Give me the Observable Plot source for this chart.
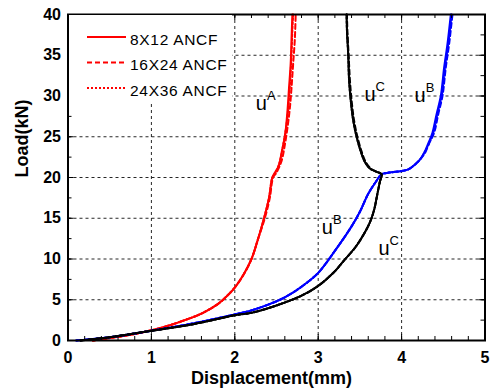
<!DOCTYPE html>
<html><head><meta charset="utf-8">
<script src="https://cdn.jsdelivr.net/npm/d3@7"></script>
<script src="https://cdn.jsdelivr.net/npm/@observablehq/plot@0.6"></script>
<style>
body{margin:0;background:#fff;}
#wrap{position:relative;width:492px;height:392px;font-family:"Liberation Sans",Arial,sans-serif;}
#legend{position:absolute;left:69px;top:15px;width:163px;height:89px;background:#fff;}
</style></head><body><div id="wrap"></div>
<script>
// ---- data ----
const xTicks = [0, 1, 2, 3, 4, 5];
const yTicks = [0, 5, 10, 15, 20, 25, 30, 35, 40];
const xGrid = [1, 2, 3, 4];
const yGrid = [5, 10, 15, 20, 25, 30, 35];
const xTitle = "Displacement(mm)";
const yTitle = "Load(kN)";
const legendLabels = ["8X12 ANCF", "16X24 ANCF", "24X36 ANCF"];

// u^A (red)
const redSolid = [[0.3,0],[0.5,0.3],[0.8,0.8],[1.0,1.25],[1.2,1.8],[1.4,2.5],[1.6,3.3],[1.8,4.5],[1.9,5.4],[2.0,6.5],[2.1,8.0],[2.2,10.0],[2.28,12.5],[2.35,15.0],[2.41,17.5],[2.45,20.0],[2.48,20.6],[2.53,21.5],[2.56,23],[2.60,25],[2.63,28],[2.65,31],[2.67,34],[2.68,37],[2.69,40]];
const redDashed = [[0.3,0],[0.5,0.3],[0.8,0.8],[1.0,1.25],[1.2,1.8],[1.4,2.5],[1.6,3.3],[1.8,4.5],[1.9,5.4],[2.0,6.5],[2.1,8.0],[2.2,10.0],[2.28,12.5],[2.36,15.0],[2.42,17.5],[2.46,20.0],[2.50,20.6],[2.56,22],[2.60,24],[2.63,26],[2.66,28.5],[2.68,31],[2.70,34],[2.72,37],[2.73,40]];
const redDotted = [[0.3,0],[0.5,0.3],[0.8,0.8],[1.0,1.25],[1.2,1.8],[1.4,2.5],[1.6,3.3],[1.8,4.5],[1.9,5.4],[2.0,6.5],[2.1,8.0],[2.2,10.0],[2.28,12.5],[2.35,15.0],[2.41,17.5],[2.45,20.0],[2.49,20.6],[2.54,22],[2.58,24],[2.62,26.5],[2.645,29],[2.665,32],[2.68,35],[2.69,38],[2.70,40]];

// u^B (blue)
const blueSolid = [[0.1,0],[0.5,0.4],[1.0,1.2],[1.5,2.1],[2.0,3.2],[2.2,3.7],[2.4,4.4],[2.6,5.3],[2.8,6.6],[3.0,8.3],[3.2,11],[3.4,14],[3.5,15.8],[3.6,18],[3.7,19.6],[3.76,20.4],[3.85,20.6],[4.0,20.8],[4.08,21.0],[4.15,21.5],[4.22,22.2],[4.27,23.0],[4.32,24.2],[4.37,25.5],[4.42,27.8],[4.47,30],[4.51,33.5],[4.55,36.4],[4.59,40]];
const blueDashed = [[0.1,0],[0.5,0.4],[1.0,1.2],[1.5,2.1],[2.0,3.2],[2.2,3.7],[2.4,4.4],[2.6,5.3],[2.8,6.6],[3.0,8.3],[3.2,11],[3.4,14],[3.5,15.8],[3.6,18],[3.7,19.6],[3.76,20.4],[3.85,20.6],[4.0,20.8],[4.08,21.0],[4.15,21.5],[4.22,22.2],[4.28,23.0],[4.33,24.2],[4.39,25.5],[4.44,27.8],[4.49,30],[4.53,33.5],[4.57,36.4],[4.61,40]];
const blueDotted = [[0.1,0],[0.5,0.4],[1.0,1.2],[1.5,2.1],[2.0,3.2],[2.2,3.7],[2.4,4.4],[2.6,5.3],[2.8,6.6],[3.0,8.3],[3.2,11],[3.4,14],[3.5,15.8],[3.6,18],[3.7,19.6],[3.76,20.4],[3.85,20.6],[4.0,20.8],[4.08,21.0],[4.15,21.5],[4.22,22.2],[4.27,23.0],[4.33,24.2],[4.38,25.5],[4.43,27.8],[4.48,30],[4.52,33.5],[4.56,36.4],[4.60,40]];

// u^C (black)
const blackSolid = [[0.15,0],[0.5,0.4],[1.0,1.2],[1.5,2.0],[2.0,3.1],[2.2,3.4],[2.5,4.3],[2.8,5.5],[3.0,6.7],[3.2,8.5],[3.3,9.7],[3.45,11.5],[3.55,13.1],[3.62,14.5],[3.67,16],[3.71,18],[3.74,19.5],[3.76,20.4],[3.7,20.7],[3.62,21.1],[3.56,21.9],[3.51,23.2],[3.46,25],[3.42,27],[3.39,29.5],[3.37,32],[3.36,35],[3.345,38],[3.34,40]];
const blackDashed = [[0.15,0],[0.5,0.4],[1.0,1.2],[1.5,2.0],[2.0,3.1],[2.2,3.4],[2.5,4.3],[2.8,5.5],[3.0,6.7],[3.2,8.5],[3.3,9.7],[3.45,11.5],[3.55,13.1],[3.62,14.5],[3.67,16],[3.71,18],[3.74,19.5],[3.76,20.4],[3.7,20.7],[3.63,21.1],[3.57,21.9],[3.52,23.2],[3.47,25],[3.43,27],[3.40,29.5],[3.38,32],[3.365,35],[3.35,38],[3.345,40]];
const blackDotted = [[0.15,0],[0.5,0.4],[1.0,1.2],[1.5,2.0],[2.0,3.1],[2.2,3.4],[2.5,4.3],[2.8,5.5],[3.0,6.7],[3.2,8.5],[3.3,9.7],[3.45,11.5],[3.55,13.1],[3.62,14.5],[3.67,16],[3.71,18],[3.74,19.5],[3.76,20.4],[3.7,20.7],[3.62,21.1],[3.56,21.9],[3.51,23.2],[3.46,25],[3.42,27],[3.39,29.5],[3.37,32],[3.36,35],[3.345,38],[3.34,40]];

// curve annotations
const labelBase = ["u", "u", "u", "u", "u"];
const labelSup = ["A", "C", "B", "B", "C"];
const labelX = [2.317, 3.623, 4.222, 3.108, 3.79];
const labelY = [29.1, 30.2, 30.1, 13.9, 11.3];

// ---- chart ----
const dashes = ["none", "5,3", "2,2"];
const series = [
  {pts: redSolid, color: "#ff0000", dash: dashes[0]},
  {pts: redDashed, color: "#ff0000", dash: dashes[1]},
  {pts: redDotted, color: "#ff0000", dash: dashes[2]},
  {pts: blueSolid, color: "#0000ff", dash: dashes[0]},
  {pts: blueDashed, color: "#0000ff", dash: dashes[1]},
  {pts: blueDotted, color: "#0000ff", dash: dashes[2]},
  {pts: blackSolid, color: "#000000", dash: dashes[0]},
  {pts: blackDashed, color: "#000000", dash: dashes[1]},
  {pts: blackDotted, color: "#000000", dash: dashes[2]}
];
const W = 492, H = 392, mL = 67.5, mR = 7.5, mT = 14, mB = 52;
const pH = H - mT - mB, pW = W - mL - mR;
const xMinor = d3.range(0, 5.001, 0.2).map(v => +v.toFixed(1));
const yMinor = d3.range(0, 40.001, 2.5);
const annot = labelBase.map((t, i) => ({t, s: labelSup[i], x: labelX[i], y: labelY[i]}));
const gridStyle = {stroke: "#000", strokeOpacity: 0.85, strokeWidth: 1, strokeDasharray: "3,3"};
const tickStyle = {stroke: "#000", strokeWidth: 1};

const chart = Plot.plot({
  width: W, height: H, marginLeft: mL, marginRight: mR, marginTop: mT, marginBottom: mB,
  x: {domain: [0, 5]},
  y: {domain: [0, 40]},
  style: {fontFamily: "Liberation Sans, Arial, sans-serif", background: "white", color: "black"},
  marks: [
    Plot.gridX(xGrid, gridStyle),
    Plot.gridY(yGrid, gridStyle),
    ...series.map(s => Plot.line(s.pts, {x: d => d[0], y: d => d[1], stroke: s.color, strokeWidth: 2, strokeDasharray: s.dash, curve: "catmull-rom"})),
    Plot.text(annot, {x: "x", y: "y", text: "t", fontSize: 20, fill: "black"}),
    Plot.text(annot, {x: "x", y: "y", text: "s", fontSize: 13, dx: 10, dy: -7.5, fill: "black"}),
    // inward ticks on all four sides
    Plot.ruleX(xMinor, {x: d => d, insetTop: pH - 4, ...tickStyle}),
    Plot.ruleX(xMinor, {x: d => d, insetBottom: pH - 4, ...tickStyle}),
    Plot.ruleX(xTicks, {x: d => d, insetTop: pH - 6, ...tickStyle}),
    Plot.ruleX(xTicks, {x: d => d, insetBottom: pH - 6, ...tickStyle}),
    Plot.ruleY(yMinor, {y: d => d, insetRight: pW - 4, ...tickStyle}),
    Plot.ruleY(yMinor, {y: d => d, insetLeft: pW - 4, ...tickStyle}),
    Plot.ruleY(yTicks, {y: d => d, insetRight: pW - 6, ...tickStyle}),
    Plot.ruleY(yTicks, {y: d => d, insetLeft: pW - 6, ...tickStyle}),
    Plot.frame({stroke: "#000", strokeWidth: 2}),
    Plot.axisX(xTicks, {tickSize: 0, tickPadding: 11, fontSize: 16, fontWeight: "bold", label: null}),
    Plot.axisY(yTicks, {tickSize: 0, tickPadding: 7, fontSize: 16, fontWeight: "bold", label: null}),
    Plot.text([xTitle], {text: d => d, frameAnchor: "bottom", lineAnchor: "middle", dx: -5, dy: 38, fontSize: 18, fontWeight: "bold"}),
    Plot.text([yTitle], {text: d => d, frameAnchor: "left", rotate: -90, dx: -46, fontSize: 18, fontWeight: "bold"})
  ]
});
const wrap = document.getElementById("wrap");
wrap.appendChild(chart);

// legend (inside plot, top-left, white box)
const leg = document.createElement("div");
leg.id = "legend";
const ns = "http://www.w3.org/2000/svg";
const lsvg = document.createElementNS(ns, "svg");
lsvg.setAttribute("width", 163); lsvg.setAttribute("height", 89);
legendLabels.forEach((lab, i) => {
  const yy = 22 + i * 25.5;
  const ln = document.createElementNS(ns, "line");
  ln.setAttribute("x1", 18); ln.setAttribute("x2", 57);
  ln.setAttribute("y1", yy); ln.setAttribute("y2", yy);
  ln.setAttribute("stroke", "#ff0000"); ln.setAttribute("stroke-width", 2);
  if (dashes[i] !== "none") ln.setAttribute("stroke-dasharray", dashes[i]);
  lsvg.appendChild(ln);
  const tx = document.createElementNS(ns, "text");
  tx.setAttribute("x", 61); tx.setAttribute("y", yy + 2);
  tx.setAttribute("dominant-baseline", "central");
  tx.setAttribute("font-size", 15.5);
  tx.setAttribute("letter-spacing", "0.7");
  tx.setAttribute("font-family", "Liberation Sans, Arial, sans-serif");
  tx.textContent = lab;
  lsvg.appendChild(tx);
});
leg.appendChild(lsvg);
wrap.appendChild(leg);
</script></body></html>
